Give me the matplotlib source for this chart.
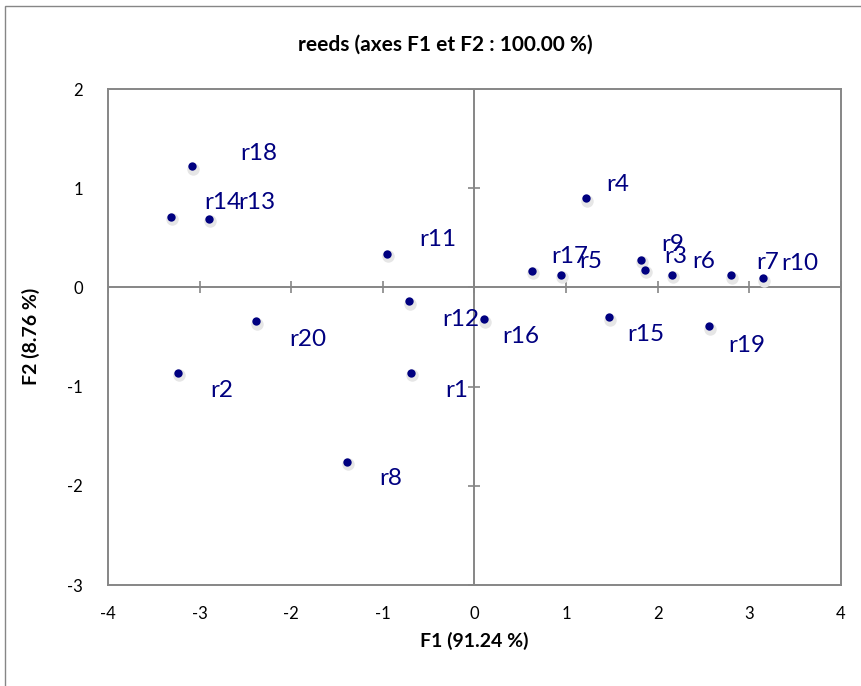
import matplotlib
matplotlib.use("Agg")
import matplotlib.pyplot as plt
import matplotlib.transforms as mtransforms
from matplotlib.patches import Rectangle

plt.rcParams["font.family"] = ["Lato", "DejaVu Sans"]
plt.rcParams["axes.unicode_minus"] = False

# Observations (F1, F2 coordinates)
names = ["r1", "r2", "r3", "r4", "r5", "r6", "r7", "r8", "r9", "r10",
         "r11", "r12", "r13", "r14", "r15", "r16", "r17", "r18", "r19", "r20"]
f1 = [-0.69, -3.24, 1.86, 1.22, 0.94, 2.16, 2.80, -1.39, 1.82, 3.15,
      -0.96, -0.72, -2.90, -3.31, 1.47, 0.10, 0.63, -3.08, 2.56, -2.38]
f2 = [-0.86, -0.86, 0.18, 0.90, 0.13, 0.13, 0.12, -1.76, 0.28, 0.09,
      0.34, -0.14, 0.69, 0.71, -0.30, -0.32, 0.17, 1.22, -0.39, -0.34]

x_ticks = [-4, -3, -2, -1, 0, 1, 2, 3, 4]
y_ticks = [-3, -2, -1, 0, 1, 2]

# label offsets from each point, in pixels (right, up)
label_dx = [45, 44, 31, 31, 30, 31, 37, 44, 31, 37,
            51, 52, 48, 52, 37, 37, 38, 66, 38, 51]
label_dy = [-18, -18, 13, 14, 13, 13, 13, -17, 15, 15,
            14, -18, 16, 14, -17, -17, 14, 13, -19, -18]

navy = "#000080"
grey = "#868686"

fig = plt.figure(figsize=(8.62, 6.86), dpi=100)
ax = fig.add_axes([108 / 862, 1 - 585 / 686, 733 / 862, 496 / 686])

# outer chart border
fig.patches.append(Rectangle((5.5 / 862, -0.2), 1.5, 1.2 - 5.5 / 686,
                             transform=fig.transFigure, fill=False,
                             edgecolor=grey, linewidth=1.0, clip_on=False))

# axes through the origin with crossing ticks
ax.axhline(0, color=grey, linewidth=1.4, zorder=1)
ax.axvline(0, color=grey, linewidth=1.4, zorder=1)
ax.plot(x_ticks, [0] * len(x_ticks), linestyle="none", marker="|",
        markersize=9, markeredgewidth=1.2, color=grey, zorder=1)
ax.plot([0] * len(y_ticks), y_ticks, linestyle="none", marker="_",
        markersize=9, markeredgewidth=1.2, color=grey, zorder=1)

# faint shadow under the points
shadow = mtransforms.offset_copy(ax.transData, fig=fig, x=1, y=-2.5, units="dots")
ax.scatter(f1, f2, s=80, color="#e6e6e6", linewidths=0, transform=shadow, zorder=2)
ax.scatter(f1, f2, s=36, color=navy, linewidths=0, zorder=3)

for name, x, y, dx, dy in zip(names, f1, f2, label_dx, label_dy):
    ax.annotate(name, (x, y), xytext=(dx, dy), textcoords="offset pixels",
                ha="center", va="center", fontsize=17.5, color=navy, zorder=4)

ax.set_xlim(-4, 4)
ax.set_ylim(-3, 2)
ax.set_xticks(x_ticks)
ax.set_yticks(y_ticks)
ax.tick_params(length=0, labelsize=12, pad=15)
ax.tick_params(axis="y", pad=18)
for spine in ax.spines.values():
    spine.set_color(grey)
    spine.set_linewidth(1.4)

fig.text(445 / 862, 1 - 45 / 686, "reeds (axes F1 et F2 : 100.00 %)",
         ha="center", va="center", fontsize=15, fontweight="bold")
fig.text(474 / 862, 1 - 641 / 686, "F1 (91.24 %)",
         ha="center", va="center", fontsize=14, fontweight="bold")
fig.text(31 / 862, 1 - 336 / 686, "F2 (8.76 %)", rotation=90,
         ha="center", va="center", fontsize=14, fontweight="bold")

fig.savefig("out.png", dpi=100)
